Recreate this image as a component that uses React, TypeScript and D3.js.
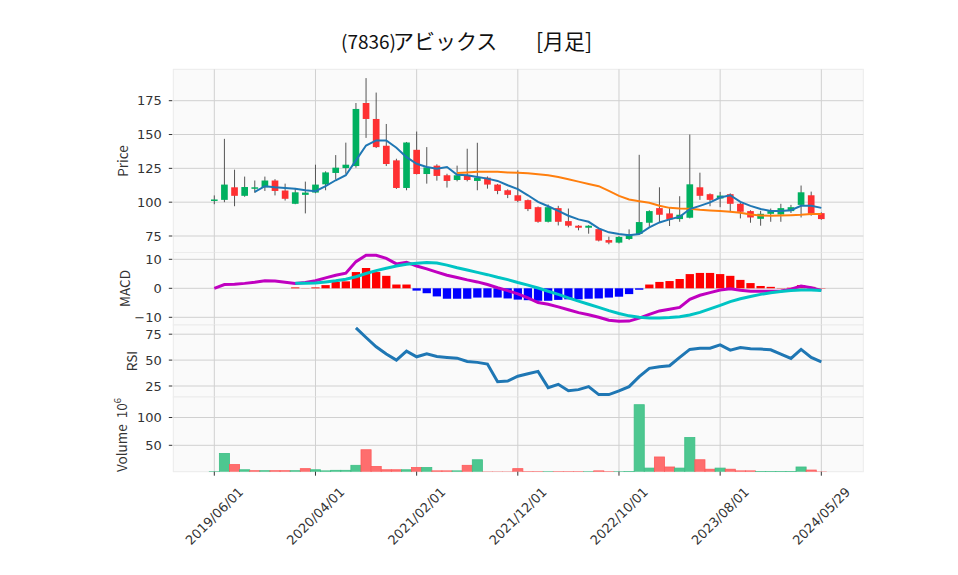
import React from 'react';
import * as d3 from 'd3';

const tickIdx = [0, 10, 20, 30, 40, 50, 60];
const tickLabels = ['2019/06/01', '2020/04/01', '2021/02/01', '2021/12/01', '2022/10/01', '2023/08/01', '2024/05/29'];

const opens = [101, 101.7, 111, 104.7, 110, 111, 116, 108.6, 98.8, 105.4, 107.1, 113.2, 121.6, 125.2, 126.7, 173.3, 161.5, 141.7, 130.9, 110.5, 138.7, 120.8, 127, 119.9, 116.4, 119.4, 115.7, 118.1, 113, 108.8, 105.1, 101.5, 96.3, 85.5, 95.6, 86, 82.6, 81.1, 80.1, 72, 70.1, 72.8, 76.5, 84.8, 95.6, 91.7, 87.5, 88.5, 111, 105.9, 102.7, 105.9, 98.8, 93.4, 87.7, 91.4, 90.9, 93.4, 98, 105.1, 91.9];
const highs = [105, 146.8, 124, 118.9, 116, 118.9, 117, 113.7, 110.5, 115.2, 127.7, 122.8, 134.8, 144, 173.3, 191.7, 181, 157.8, 132.1, 144.5, 152.2, 140.7, 128, 121, 127, 139.5, 143.9, 119, 113.5, 109.5, 123.5, 102, 96.8, 98.3, 97.3, 95.3, 83, 83, 80.5, 74.5, 75, 79.9, 135, 94, 111, 95.8, 104.4, 150, 121.8, 106.5, 107.6, 106.5, 99.5, 94, 93.6, 95.3, 98.8, 98, 112.3, 107.8, 92.5];
const lows = [98.5, 100, 97, 104, 106.9, 108.3, 105, 101.2, 98.5, 91.7, 106.6, 108.8, 116.7, 121, 125.5, 147.5, 140, 126.7, 109.8, 108.8, 120.5, 113.7, 115.9, 110.8, 115.4, 115.4, 108.8, 110, 105.9, 103, 100, 93.4, 84.8, 85, 82.8, 81.4, 79.2, 76.7, 71, 68.9, 69.5, 72, 76, 81.9, 84.8, 82.4, 85.5, 88, 101.7, 97, 96.3, 92.6, 88, 84.8, 82.6, 85.5, 85.5, 92, 88.7, 90, 87];
const closes = [102, 113, 104.7, 111.2, 111, 116, 108.3, 102.5, 107.3, 107.1, 113, 122, 125.5, 127.7, 168.9, 161.5, 140.7, 128.2, 110.5, 144.1, 120.8, 125.7, 119.4, 115.7, 119.9, 116.4, 118.1, 113, 108.3, 105.4, 101, 94.9, 85.5, 96.3, 85.5, 82.6, 81.1, 82.6, 71.6, 70.1, 74.3, 76.2, 85.3, 93.4, 90.7, 87.3, 90.7, 113.2, 104.7, 101.7, 104.9, 98.8, 92.9, 88.7, 91.4, 93.4, 95.6, 96.3, 107.3, 91.4, 87.5];
const volumes = [2.4, 35.4, 15.3, 6, 4.3, 4.3, 4.3, 4.3, 4.3, 8, 6, 4, 5, 5, 14, 42, 12, 6, 6, 6, 10, 10, 4, 4, 4, 14, 24, 2, 2, 2, 8, 2.4, 2.4, 2.4, 2.4, 2.4, 2.4, 2.4, 4, 2.4, 2.4, 3, 123, 9, 29, 11, 9, 64, 24, 7, 9, 7, 4, 4, 3, 3, 3, 3, 11, 5.5, 2];
const ma5 = [null, null, null, null, 107.6, 111.8, 111, 110.5, 110, 108.8, 108.1, 111.8, 116.2, 119.9, 130.9, 141.9, 145.6, 145.6, 140.2, 133.3, 128.4, 126, 124.8, 126, 120.3, 119.9, 118.6, 117.4, 115.7, 112.5, 109.6, 105.1, 100.2, 97, 93.6, 90, 87.3, 85.5, 80.6, 77.7, 76.5, 75.5, 76.5, 81.4, 85, 87.3, 89.2, 94.9, 97.3, 99.8, 103.4, 105.1, 100.2, 97.3, 94.9, 93.4, 93.4, 94.1, 97.3, 97.3, 95.8];
const ma25 = [null, null, null, null, null, null, null, null, null, null, null, null, null, null, null, null, null, null, null, null, null, null, null, null, 121.6, 122, 122.5, 122.5, 122.5, 122, 121.8, 121.3, 120.6, 119.9, 118.6, 116.9, 115.2, 113.5, 111.8, 108.3, 104.7, 102, 100.7, 99.5, 97.3, 95.8, 95.3, 95.1, 94.4, 93.9, 93.4, 92.9, 92.2, 90.9, 90.2, 90, 90.2, 90.4, 90.7, 91.2, 91.2];
const macd = [0, 1.3, 1.4, 1.7, 2.1, 2.6, 2.5, 2.1, 1.7, 2.0, 2.6, 3.6, 4.5, 5.2, 9.2, 11.4, 11.4, 10.3, 8.4, 9.0, 7.7, 6.7, 5.6, 4.5, 3.7, 2.9, 2.2, 1.3, 0.2, -0.8, -1.9, -3.3, -4.9, -5.5, -6.4, -7.4, -8.4, -9.1, -10, -11, -11.4, -11.3, -10.3, -9.0, -7.8, -7.2, -6.6, -3.8, -2.4, -1.5, -0.6, -0.2, -0.7, -1.0, -1.0, -1.0, -0.9, -0.3, 0.8, 0.2, -0.7];
const signal = [null, null, null, null, null, null, null, null, 1.7, 1.7, 1.8, 2.2, 2.6, 3.1, 4.0, 5.1, 6.1, 6.9, 7.7, 8.3, 8.6, 8.9, 8.7, 8.0, 7.1, 6.3, 5.5, 4.7, 3.8, 3.0, 2.0, 1.1, 0.1, -1.0, -2.1, -3.3, -4.4, -5.5, -6.6, -7.7, -8.7, -9.5, -10, -10.2, -10.2, -10.1, -9.8, -9.2, -8.3, -7.1, -5.9, -4.6, -3.6, -2.8, -2.1, -1.5, -1.1, -0.8, -0.6, -0.6, -0.8];
const hist = [null, null, null, null, null, null, null, null, 0.3, 0.05, 0.3, 1.1, 2.2, 2.4, 5.6, 7.0, 5.6, 4.3, 1.3, 1.3, -0.8, -1.7, -2.8, -3.6, -3.6, -3.6, -3.2, -3.2, -3.2, -3.5, -3.9, -4.1, -4.3, -4.3, -4.0, -3.8, -3.8, -3.6, -3.5, -3.2, -2.9, -2.0, -0.5, 1.3, 2.2, 2.5, 3.2, 4.9, 5.3, 5.3, 4.9, 4.3, 2.9, 1.8, 0.8, 0.5, 0.1, 0.2, 1.1, 0.5, 0.1];
const rsi = [null, null, null, null, null, null, null, null, null, null, null, null, null, null, 81.1, 71.8, 62.8, 55.8, 50, 58.7, 53.2, 56.1, 53.5, 52.6, 51.9, 48.7, 47.8, 46.2, 29.2, 29.8, 34.4, 36.9, 39.1, 23.4, 26.6, 20.5, 21.5, 24.4, 16.7, 16.7, 20.2, 24.4, 34, 42, 43.6, 44.6, 52.6, 60.3, 61.5, 61.5, 64.7, 59.6, 62.2, 60.9, 60.6, 59.9, 55.8, 51.6, 60.3, 52.6, 48.4];

const priceTicks = [75, 100, 125, 150, 175];
const macdTicks = [-10, 0, 10];
const rsiTicks = [25, 50, 75];
const volTicks = [50, 100];

const FONT = "'Noto Sans CJK JP', 'DejaVu Sans', sans-serif";
const NUMFONT = "'DejaVu Sans', sans-serif";
const L = 173.3, R = 863.3;
const panels = {
  price: { top: 69.3, bottom: 252.5 },
  macd: { top: 252.5, bottom: 325 },
  rsi: { top: 325, bottom: 397 },
  vol: { top: 397, bottom: 471.7 },
};

const UP = '#00b060', DOWN = '#fe3032';
const VUP = '#4dc790', VDOWN = '#fe6e6e';
const GRID = '#d0d0d0';

export default function App() {
  const n = closes.length;
  const idx = d3.range(n);
  const x = d3.scaleLinear().domain([-4.053, 64.15]).range([L, R]);
  const step = x(1) - x(0);
  const yP = d3.scaleLinear().domain([75, 175]).range([236, 100.7]);
  const yM = d3.scaleLinear().domain([-10, 10]).range([317.3, 259.3]);
  const yR = d3.scaleLinear().domain([25, 75]).range([386, 334.2]);
  const yV = d3.scaleLinear().domain([50, 100]).range([445.3, 417.5]);

  const mkLine = (arr: (number | null)[], y: d3.ScaleLinear<number, number>) =>
    d3.line<number>().defined((i) => arr[i] != null).x((i) => x(i)).y((i) => y(arr[i] as number))(idx) || '';

  const hLines = (ticks: number[], y: d3.ScaleLinear<number, number>, fmt: (v: number) => string) =>
    ticks.map((t) => (
      <g key={t}>
        <line x1={L} x2={R} y1={y(t)} y2={y(t)} stroke={GRID} strokeWidth={1} />
        <line x1={L - 4.5} x2={L - 1} y1={y(t)} y2={y(t)} stroke="#333" strokeWidth={1} />
        <text x={L - 11.5} y={y(t)} dy="0.36em" textAnchor="end" fontSize={13} fill="#333" fontFamily={NUMFONT}>
          {fmt(t)}
        </text>
      </g>
    ));

  const vLines = (p: { top: number; bottom: number }) =>
    tickIdx.map((t) => (
      <line key={t} x1={x(t)} x2={x(t)} y1={p.top} y2={p.bottom} stroke={GRID} strokeWidth={1} />
    ));

  const panelRect = (p: { top: number; bottom: number }, key: string) => (
    <rect key={key} x={L} y={p.top} width={R - L} height={p.bottom - p.top} fill="#fafafa" stroke="#ececec" strokeWidth={1} />
  );

  const fmtMinus = (v: number) => (v < 0 ? '\u2212' + Math.abs(v) : String(v));
  const bodyW = step * 0.66;
  const histW = step * 0.82;
  const volW = step;

  return (
    <svg width={958} height={575} style={{ position: 'absolute', left: 0, top: 0, background: '#fff' }} fontFamily={FONT}>
      <defs>
        <clipPath id="cp"><rect x={L} y={panels.price.top} width={R - L} height={panels.price.bottom - panels.price.top} /></clipPath>
        <clipPath id="cm"><rect x={L} y={panels.macd.top} width={R - L} height={panels.macd.bottom - panels.macd.top} /></clipPath>
        <clipPath id="cr"><rect x={L} y={panels.rsi.top} width={R - L} height={panels.rsi.bottom - panels.rsi.top} /></clipPath>
        <clipPath id="cv"><rect x={L} y={panels.vol.top} width={R - L} height={panels.vol.bottom - panels.vol.top} /></clipPath>
      </defs>
      <rect x={0} y={0} width={958} height={575} fill="#fff" />
      <text y={49} fill="#111" fontFamily={FONT}>
        <tspan x={341} fontSize={19}>(7836)</tspan>
        <tspan x={393} fontSize={21}>アビックス</tspan>
        <tspan x={536} fontSize={21}>[月足]</tspan>
      </text>

      {/* Price panel */}
      {panelRect(panels.price, 'pp')}
      {vLines(panels.price)}
      {hLines(priceTicks, yP, String)}
      <g clipPath="url(#cp)">
        {idx.map((i) => {
          const up = closes[i] >= opens[i];
          const c = up ? UP : DOWN;
          const top = yP(Math.max(opens[i], closes[i]));
          const bot = yP(Math.min(opens[i], closes[i]));
          return (
            <g key={i}>
              <line x1={x(i)} x2={x(i)} y1={yP(highs[i])} y2={yP(lows[i])} stroke="#555" strokeWidth={1} />
              <rect x={x(i) - bodyW / 2} y={top} width={bodyW} height={Math.max(bot - top, 1.5)} fill={c} />
            </g>
          );
        })}
        <path d={mkLine(ma25, yP)} fill="none" stroke="#ff7f0e" strokeWidth={2} />
        <path d={mkLine(ma5, yP)} fill="none" stroke="#1f77b4" strokeWidth={2} />
      </g>
      <text transform={`translate(128,161) rotate(-90)`} textAnchor="middle" fontSize={13.5} fill="#333">Price</text>

      {/* MACD panel */}
      {panelRect(panels.macd, 'pm')}
      {vLines(panels.macd)}
      {hLines(macdTicks, yM, fmtMinus)}
      <g clipPath="url(#cm)">
        {idx.filter((i) => hist[i] != null).map((i) => {
          const v = hist[i] as number;
          const y0 = yM(0), y1 = yM(v);
          return (
            <rect key={i} x={x(i) - histW / 2} y={Math.min(y0, y1)} width={histW} height={Math.abs(y1 - y0)} fill={v >= 0 ? '#ff0000' : '#0000ff'} />
          );
        })}
        <path d={mkLine(macd, yM)} fill="none" stroke="#c000c0" strokeWidth={3} />
        <path d={mkLine(signal, yM)} fill="none" stroke="#00c4c4" strokeWidth={3} />
      </g>
      <text transform={`translate(130,288.5) rotate(-90)`} textAnchor="middle" fontSize={13.5} fill="#333">MACD</text>

      {/* RSI panel */}
      {panelRect(panels.rsi, 'pr')}
      {vLines(panels.rsi)}
      {hLines(rsiTicks, yR, String)}
      <g clipPath="url(#cr)">
        <path d={mkLine(rsi, yR)} fill="none" stroke="#1f77b4" strokeWidth={3} />
      </g>
      <text transform={`translate(136.5,361) rotate(-90)`} textAnchor="middle" fontSize={13.5} fill="#333">RSI</text>

      {/* Volume panel */}
      {panelRect(panels.vol, 'pv')}
      {vLines(panels.vol)}
      {hLines(volTicks, yV, String)}
      <g clipPath="url(#cv)">
        {idx.map((i) => {
          const up = i === 0 ? closes[i] >= opens[i] : closes[i] >= closes[i - 1];
          const y0 = yV(0), y1 = yV(volumes[i]);
          return (
            <rect key={i} x={x(i) - volW / 2} y={y1} width={volW} height={y0 - y1} fill={up ? VUP : VDOWN} stroke={up ? '#3cbf85' : '#fe5a5a'} strokeWidth={0.8} />
          );
        })}
      </g>
      <text transform={`translate(126.5,435) rotate(-90)`} textAnchor="middle" fontSize={13.5} fill="#333">
        {'Volume\u00a0\u00a0'}10<tspan dy={-6} fontSize={9.5}>6</tspan>
      </text>

      {/* X axis */}
      {tickIdx.map((t, k) => (
        <g key={t}>
          <line x1={x(t)} x2={x(t)} y1={panels.vol.bottom} y2={panels.vol.bottom + 4} stroke="#333" strokeWidth={1} />
          <text transform={`translate(${x(t)},${516}) rotate(-45)`} textAnchor="middle" dy="0.36em" fontSize={13} fill="#333" fontFamily={NUMFONT}>
            {tickLabels[k]}
          </text>
        </g>
      ))}
    </svg>
  );
}
